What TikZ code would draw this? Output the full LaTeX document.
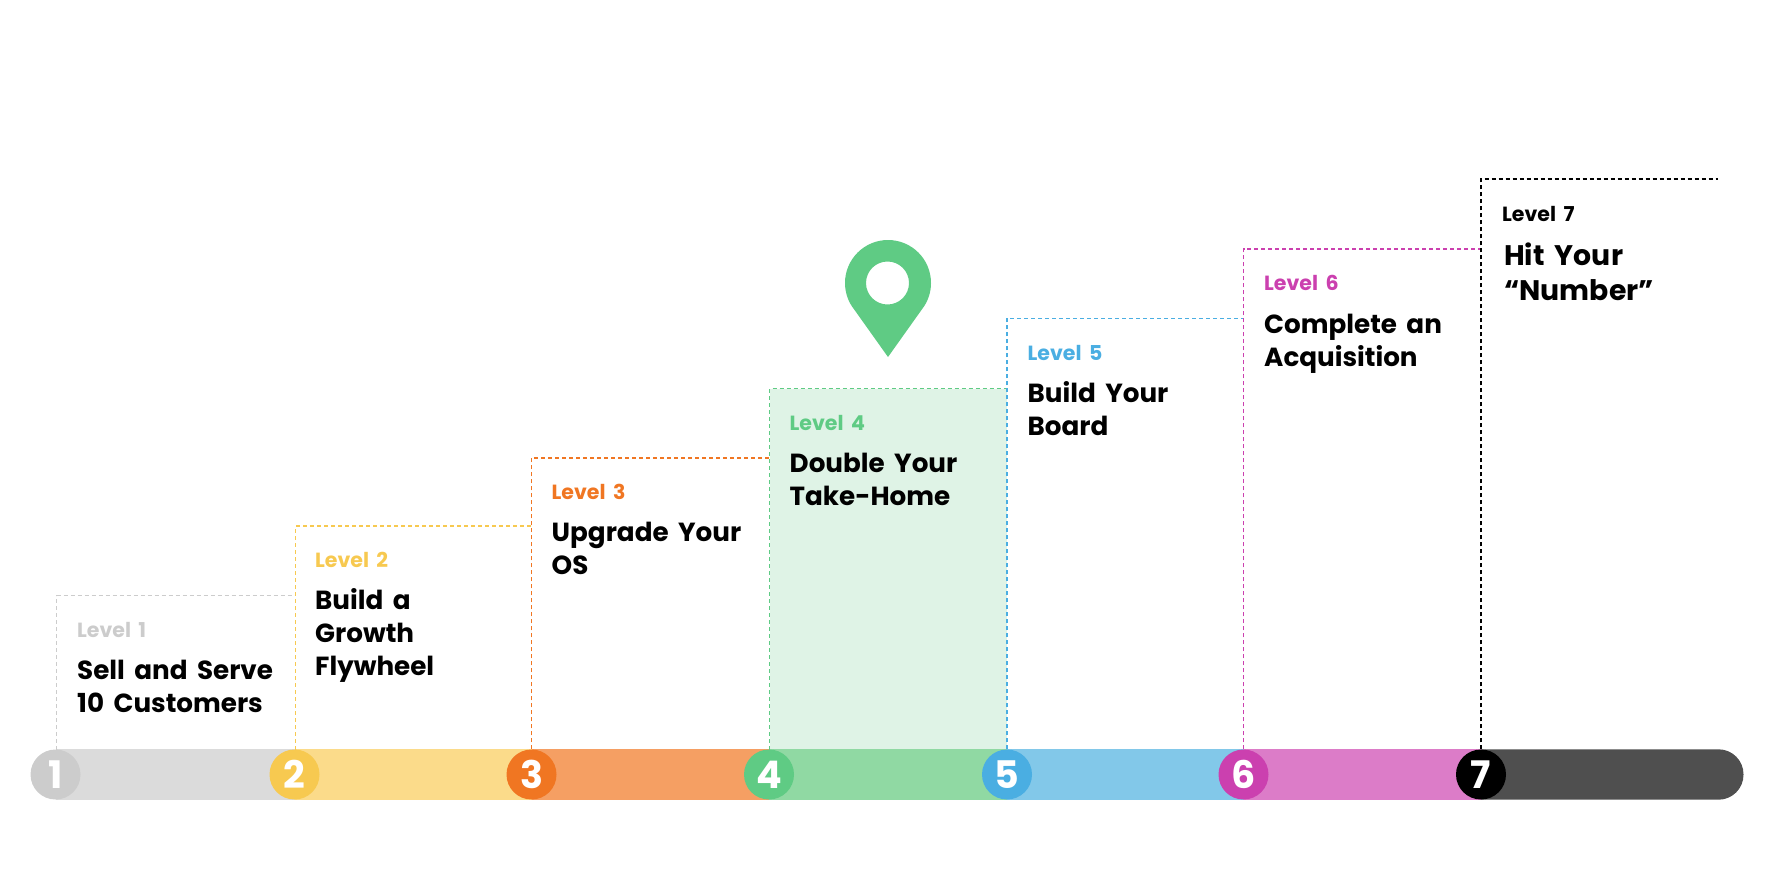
\documentclass[tikz,border=0pt]{standalone}
\usepackage{fontspec}
\setmainfont{Poppins}
\newfontfamily\gf{Poppins}[WordSpace=1.7]
\definecolor{ca}{HTML}{CCCCCC}\definecolor{cb}{HTML}{F7C950}\definecolor{cc}{HTML}{F07622}
\definecolor{cd}{HTML}{5FCB84}\definecolor{ce}{HTML}{4AAEE2}\definecolor{cf}{HTML}{CB40AF}\definecolor{cg}{HTML}{000000}
\definecolor{ba}{HTML}{DBDBDB}\definecolor{bb}{HTML}{FBDB8A}\definecolor{bc}{HTML}{F59F63}
\definecolor{bd}{HTML}{90D9A3}\definecolor{be}{HTML}{82C8E9}\definecolor{bf}{HTML}{DC7CC8}\definecolor{bg}{HTML}{4F4F4F}
\definecolor{tint}{HTML}{DFF3E6}
\tikzset{
 numdot/.style={circle,minimum size=50pt,inner sep=0pt,text=white,font=\gf\bfseries\fontsize{38}{38}\selectfont},
 stepline/.style={line width=1.1pt,dash pattern=on 4pt off 3pt},
 lvl/.style={anchor=base west,inner sep=0pt,font=\gf\bfseries\fontsize{20.5}{22}\selectfont},
 ttl/.style={anchor=base west,inner sep=0pt,align=left,text=black,font=\gf\bfseries\fontsize{26.2}{33}\selectfont},
 ttlb/.style={anchor=base west,inner sep=0pt,align=left,text=black,font=\gf\bfseries\fontsize{28.3}{35}\selectfont},
}
\begin{document}
\begin{tikzpicture}[x=1pt,y=-1pt]
\useasboundingbox (0,0) rectangle (1775,894);
\fill[tint] (769.5,388.5) rectangle (1007,750);
\path (55.5,774.5) node[numdot] (n1) {}
      (294.5,774.5) node[numdot] (n2) {}
      (531.5,774.5) node[numdot] (n3) {}
      (769,774.5) node[numdot] (n4) {}
      (1007,774.5) node[numdot] (n5) {}
      (1243.5,774.5) node[numdot] (n6) {}
      (1481,774.5) node[numdot] (n7) {};
\coordinate (barend) at (1743.5,774.5);
\coordinate (b1) at (56.5,749.5);
\coordinate (b2) at (295.5,749.5);
\coordinate (b4) at (769.5,749.5);
\coordinate (t1) at (295.5,595.5);
\coordinate (t2) at (531.5,526);
\coordinate (t3) at (769.5,458);
\coordinate (t4) at (1007,388.5);
\coordinate (t5) at (1243.5,318.5);
\coordinate (t6) at (1481,249);
\coordinate (t7) at (1718,179);
\fill[ba] (n1.north) rectangle (n2.south);
\fill[bb] (n2.north) rectangle (n3.south);
\fill[bc] (n3.north) rectangle (n4.south);
\fill[bd] (n4.north) rectangle (n5.south);
\fill[be] (n5.north) rectangle (n6.south);
\fill[bf] (n6.north) rectangle (n7.south);
\fill[bg] (n7.north) [rounded corners=25pt] -- (barend |- n7.north) -- (barend |- n7.south) [sharp corners] -- (n7.south) -- cycle;
\path (n1) node[numdot,fill=ca] {1} (n2) node[numdot,fill=cb] {2} (n3) node[numdot,fill=cc] {3}
      (n4) node[numdot,fill=cd] {4} (n5) node[numdot,fill=ce] {5} (n6) node[numdot,fill=cf] {6}
      (n7) node[numdot,fill=cg] {7};
\draw[stepline,ca] (b1) |- (t1);
\draw[stepline,cb] (b2) |- (t2);
\draw[stepline,cc] (n3.north) |- (t3);
\draw[stepline,cd] (b4) |- (t4);
\draw[stepline,ce] (n5.north) |- (t5);
\draw[stepline,cf] (n6.north) |- (t6);
\draw[stepline,cg] (n7.north) |- (t7);
\node[lvl,text=ca] (l1) at (77,637) {Level 1};
\node[ttl] (h1) at (77,712) {Sell and Serve\\10 Customers};
\node[lvl,text=cb] (l2) at (315,567.5) {Level 2};
\node[ttl] (h2) at (315,675.5) {Build a\\Growth\\Flywheel};
\node[lvl,text=cc] (l3) at (551.5,499) {Level 3};
\node[ttl] (h3) at (551.5,574.5) {Upgrade Your\\OS};
\node[lvl,text=cd] (l4) at (789.5,430) {Level 4};
\node[ttl] (h4) at (789.5,505) {Double Your\\Take-Home};
\node[lvl,text=ce] (l5) at (1027.5,360) {Level 5};
\node[ttl] (h5) at (1027.5,435.5) {Build Your\\Board};
\node[lvl,text=cf] (l6) at (1264,290.5) {Level 6};
\node[ttl] (h6) at (1264,366) {Complete an\\Acquisition};
\node[lvl,text=cg] (l7) at (1502,221) {Level 7};
\node[ttlb] (h7) at (1504,300) {Hit Your\\“Number”};
\fill[cd,even odd rule] (888,357) -- (851.7,306)
  .. controls (847.3,299.1) and (845,291.2) .. (845,283)
  .. controls (845,259.25) and (864.25,240) .. (888,240)
  .. controls (911.75,240) and (931,259.25) .. (931,283)
  .. controls (931,291.2) and (928.7,299.1) .. (924.3,306) -- cycle
  (887.5,283) circle[radius=21.5pt];
\end{tikzpicture}
\end{document}
